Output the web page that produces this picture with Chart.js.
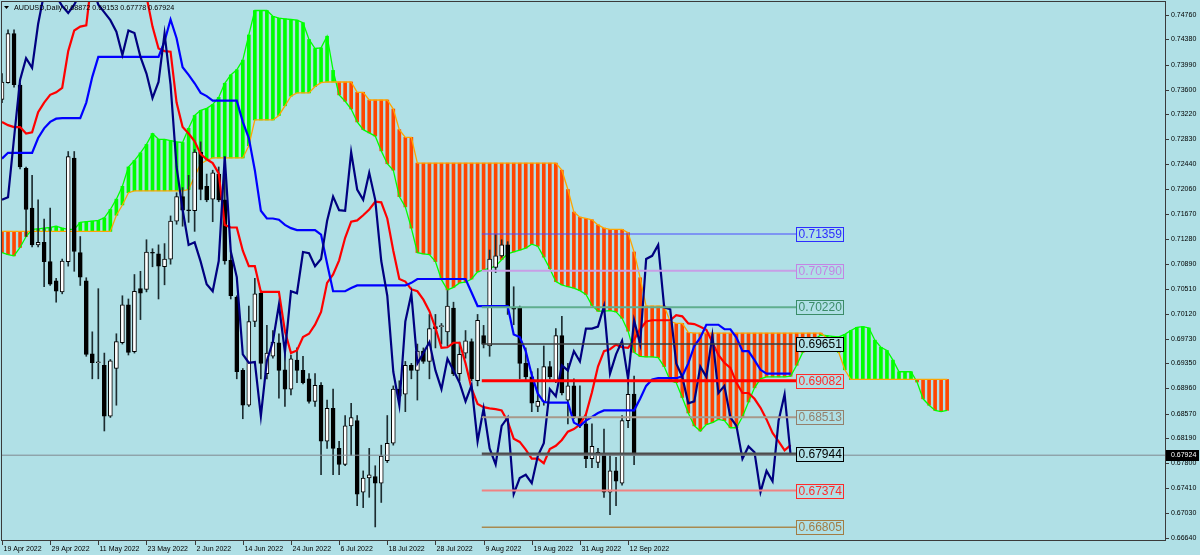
<!DOCTYPE html>
<html>
<head>
<meta charset="utf-8">
<script src="https://cdn.jsdelivr.net/npm/chart.js@4.4.0/dist/chart.umd.min.js"></script>
<style>
  html, body { margin: 0; padding: 0; background: #b0e0e6; }
  canvas { display: block; }
</style>
</head>
<body>
<canvas id="chart" width="1200" height="555"></canvas>
<script>
// AUDUSD daily candles, bar 0 = 19 Apr 2022 ... bar 105 = 13 Sep 2022
const opens = [0.7345,0.7371,0.7447,0.7367,0.7238,0.7176,0.7119,0.7123,0.7093,0.7063,
  0.7046,0.7093,0.7254,0.7107,0.7063,0.6950,0.6936,0.6932,0.6853,0.6927,
  0.6967,0.7026,0.6953,0.7051,0.7050,0.7107,0.7105,0.7085,0.7097,0.7156,
  0.7194,0.7173,0.7172,0.7263,0.7210,0.7190,0.7229,0.7189,0.7095,0.7038,
  0.6924,0.6870,0.7000,0.7044,0.6919,0.6946,0.6967,0.6925,0.6895,0.6940,
  0.6924,0.6911,0.6876,0.6901,0.6814,0.6865,0.6803,0.6778,0.6838,0.6846,
  0.6735,0.6757,0.6759,0.6749,0.6784,0.6811,0.6895,0.6887,0.6932,0.6924,
  0.6954,0.6938,0.6992,0.6992,0.6984,0.7021,0.6919,0.6951,0.6969,0.6908,
  0.6978,0.6962,0.7084,0.7102,0.7119,0.7022,0.7021,0.6935,0.6914,0.6868,
  0.6876,0.6930,0.6908,0.6978,0.6878,0.6900,0.6851,0.6841,0.6787,0.6781,
  0.6795,0.6735,0.6768,0.6749,0.6846,0.68872];
const highs = [0.7385,0.7453,0.7453,0.7370,0.7240,0.7227,0.7189,0.7159,0.7176,0.7067,
  0.7097,0.7264,0.7264,0.7132,0.7068,0.6984,0.7051,0.6951,0.6941,0.6981,
  0.7040,0.7035,0.7073,0.7078,0.7127,0.7113,0.7119,0.7121,0.7164,0.7200,
  0.7208,0.7227,0.7267,0.7279,0.7229,0.7235,0.7240,0.7256,0.7110,0.7040,
  0.6927,0.7024,0.7067,0.7048,0.6994,0.6986,0.6981,0.6951,0.6948,0.6959,
  0.6946,0.6919,0.6919,0.6905,0.6878,0.6895,0.6814,0.6854,0.6873,0.6854,
  0.6768,0.6803,0.6776,0.6808,0.6854,0.6900,0.6908,0.6938,0.6935,0.6965,
  0.6959,0.7011,0.7011,0.6997,0.7048,0.7030,0.6968,0.6986,0.6973,0.7011,
  0.6994,0.7111,0.7135,0.7127,0.7124,0.7054,0.7024,0.6959,0.6922,0.6927,
  0.6962,0.6938,0.6989,0.7008,0.6935,0.6911,0.6900,0.6854,0.6841,0.6803,
  0.6833,0.6792,0.6789,0.6854,0.6913,0.69153];
const lows = [0.7340,0.7370,0.7364,0.7237,0.7132,0.7116,0.7116,0.7054,0.7056,0.7030,
  0.7043,0.7086,0.7078,0.7056,0.6946,0.6911,0.6911,0.6830,0.6851,0.6870,
  0.6965,0.6948,0.6951,0.7003,0.7046,0.7085,0.7035,0.7057,0.7089,0.7151,
  0.7148,0.7154,0.7140,0.7189,0.7186,0.7155,0.7186,0.7089,0.7035,0.6911,
  0.6849,0.6868,0.6992,0.6911,0.6911,0.6943,0.6881,0.6868,0.6886,0.6905,
  0.6903,0.6873,0.6868,0.6762,0.6803,0.6762,0.6762,0.6776,0.6792,0.6714,
  0.6711,0.6727,0.6681,0.6719,0.6781,0.6808,0.6876,0.6860,0.6911,0.6878,
  0.6935,0.6911,0.6959,0.6965,0.6962,0.6916,0.6908,0.6943,0.6908,0.6900,
  0.6959,0.6946,0.7076,0.7100,0.7011,0.6995,0.6911,0.6908,0.6860,0.6860,
  0.6870,0.6911,0.6905,0.6886,0.6841,0.6849,0.6835,0.6773,0.6773,0.6773,
  0.6727,0.6700,0.6714,0.6746,0.6835,0.67778];
const closes = [0.7372,0.7447,0.7368,0.7240,0.7174,0.7119,0.7123,0.7093,0.7058,0.7047,
  0.7094,0.7256,0.7109,0.7069,0.6949,0.6936,0.6937,0.6853,0.6939,0.6969,
  0.7026,0.6952,0.7047,0.7044,0.7108,0.7106,0.7086,0.7097,0.7156,0.7194,
  0.7173,0.7172,0.7263,0.7205,0.7189,0.7231,0.7189,0.7094,0.7040,0.6922,
  0.6870,0.7000,0.7043,0.6935,0.6951,0.6968,0.6924,0.6895,0.6942,0.6924,
  0.6905,0.6876,0.6901,0.6814,0.6865,0.6803,0.6778,0.6838,0.6851,0.6732,
  0.6757,0.6762,0.6749,0.6791,0.6811,0.6895,0.6884,0.6932,0.6924,0.6954,
  0.6938,0.6989,0.6989,0.6992,0.7024,0.6919,0.6949,0.6970,0.6911,0.7002,
  0.6965,0.7097,0.7102,0.7119,0.7022,0.7019,0.6935,0.6914,0.6873,0.6876,
  0.6930,0.6914,0.6978,0.6889,0.6900,0.6851,0.6838,0.6787,0.6806,0.6797,
  0.6735,0.6768,0.6752,0.6846,0.6887,0.67924];

// indicator lines, bar 0..131
const chikou = [0.7189,0.7193,0.7285,0.7375,0.7409,0.7394,0.7462,0.7510,0.7520,0.7505,
  0.7490,0.7479,0.7492,0.7510,0.7530,0.7520,0.7492,0.7480,0.7468,0.7450,
  0.7414,0.7452,0.7448,0.7411,0.7385,0.7347,
  0.7372,0.7447,0.7368,0.7240,0.7174,0.7119,0.7123,0.7093,0.7058,0.7047,
  0.7094,0.7256,0.7109,0.7069,0.6949,0.6936,0.6937,0.6853,0.6939,0.6969,
  0.7026,0.6952,0.7047,0.7044,0.7108,0.7106,0.7086,0.7097,0.7156,0.7194,
  0.7173,0.7172,0.7263,0.7205,0.7189,0.7231,0.7189,0.7094,0.7040,0.6922,
  0.6870,0.7000,0.7043,0.6935,0.6951,0.6968,0.6924,0.6895,0.6942,0.6924,
  0.6905,0.6876,0.6901,0.6814,0.6865,0.6803,0.6778,0.6838,0.6851,0.6732,
  0.6757,0.6762,0.6749,0.6791,0.6811,0.6895,0.6884,0.6932,0.6924,0.6954,
  0.6938,0.6989,0.6989,0.6992,0.7024,0.6919,0.6949,0.6970,0.6911,0.7002,
  0.6965,0.7097,0.7102,0.7119,0.7022,0.7019,0.6935,0.6914,0.6873,0.6876,
  0.6930,0.6914,0.6978,0.6889,0.6900,0.6851,0.6838,0.6787,0.6806,0.6797,
  0.6735,0.6768,0.6752,0.6846,0.6887,0.67924];
const tenkan = [0.7310,0.7305,0.7302,0.7302,0.7292,0.7294,0.7325,0.7340,0.7352,0.7356,
  0.7363,0.7420,0.7452,0.7458,0.7460,0.7540,0.7560,0.7560,0.7560,0.7560,
  0.7560,0.7560,0.7540,0.7520,0.7505,0.7458,0.7424,0.7420,0.7419,0.7340,
  0.7302,0.7292,0.7280,0.7260,0.7252,0.7246,0.7230,0.7150,0.7146,0.7146,
  0.7110,0.7086,0.7086,0.7046,0.7046,0.7046,0.7046,0.6985,0.6951,0.6955,
  0.6976,0.6981,0.6995,0.7015,0.7060,0.7073,0.7095,0.7130,0.7155,0.7157,
  0.7165,0.7174,0.7186,0.7185,0.7160,0.7110,0.7066,0.7062,0.7050,0.7047,
  0.7034,0.7016,0.6990,0.6959,0.6960,0.6967,0.6967,0.6935,0.6896,0.6872,
  0.6867,0.6865,0.6864,0.6862,0.6845,0.6818,0.6813,0.6801,0.6787,0.6787,
  0.6780,0.6802,0.6807,0.6816,0.6829,0.6833,0.6840,0.6856,0.6890,0.6930,
  0.6954,0.6957,0.6964,0.6960,0.6959,0.6972,0.6988,0.7000,0.7002,0.7002,
  0.7002,0.7002,0.7010,0.7008,0.6997,0.6996,0.6992,0.6987,0.6968,0.6948,
  0.6936,0.6928,0.6905,0.6889,0.6889,0.6880,0.6866,0.6848,0.6827,0.6814,
  0.6800,0.6808];
const kijun = [0.7253,0.7262,0.7262,0.7262,0.7262,0.7262,0.7285,0.7300,0.7310,0.7315,
  0.7316,0.7316,0.7316,0.7316,0.7340,0.7380,0.7411,0.7411,0.7411,0.7411,
  0.7411,0.7411,0.7411,0.7411,0.7411,0.7411,0.7411,0.7435,0.7469,0.7440,
  0.7395,0.7383,0.7370,0.7355,0.7350,0.7343,0.7343,0.7343,0.7343,0.7343,
  0.7310,0.7285,0.7235,0.7172,0.7160,0.7160,0.7158,0.7150,0.7145,0.7142,
  0.7142,0.7142,0.7142,0.7135,0.7090,0.7047,0.7047,0.7047,0.7052,0.7056,
  0.7056,0.7056,0.7056,0.7056,0.7056,0.7056,0.7056,0.7056,0.7060,0.7066,
  0.7066,0.7066,0.7066,0.7066,0.7066,0.7066,0.7066,0.7066,0.7045,0.7024,
  0.7024,0.7024,0.7024,0.7024,0.7024,0.6980,0.6976,0.6954,0.6917,0.6888,
  0.6875,0.6874,0.6874,0.6874,0.6874,0.6843,0.6838,0.6846,0.6852,0.6858,
  0.6862,0.6862,0.6862,0.6862,0.6862,0.6862,0.6880,0.6900,0.6910,0.6912,
  0.6912,0.6912,0.6912,0.6915,0.6935,0.6962,0.6975,0.6995,0.6995,0.6995,
  0.6988,0.6988,0.6975,0.6954,0.6954,0.6940,0.6925,0.6919,0.6919,0.6919,
  0.6919,0.6919];

// cloud, bar 0..157
const spanA = [0.7107,0.7104,0.7102,0.7115,0.7132,0.7143,0.7144,0.7145,0.7146,0.7148,
  0.7145,0.7143,0.7143,0.7154,0.7155,0.7156,0.7157,0.7161,0.7174,0.7190,
  0.7210,0.7240,0.7250,0.7262,0.7275,0.7292,0.7283,0.7283,0.7281,0.7279,
  0.7278,0.7300,0.7320,0.7328,0.7331,0.7337,0.7348,0.7370,0.7383,0.7391,
  0.7406,0.7445,0.7483,0.7483,0.7483,0.7474,0.7471,0.7470,0.7469,0.7468,
  0.7464,0.7438,0.7424,0.7425,0.7443,0.7390,0.7352,0.7342,0.7330,0.7310,
  0.7298,0.7293,0.7288,0.7265,0.7245,0.7235,0.7194,0.7178,0.7145,0.7107,
  0.7105,0.7104,0.7093,0.7065,0.7049,0.7053,0.7060,0.7061,0.7066,0.7077,
  0.7080,0.7083,0.7086,0.7096,0.7105,0.7108,0.7111,0.7114,0.7120,0.7117,
  0.7100,0.7082,0.7062,0.7057,0.7054,0.7052,0.7048,0.7042,0.7025,0.7016,
  0.7016,0.7017,0.7015,0.7005,0.6985,0.6952,0.6946,0.6945,0.6945,0.6944,
  0.6930,0.6908,0.6905,0.6882,0.6858,0.6838,0.6830,0.6840,0.6843,0.6848,
  0.6846,0.6835,0.6835,0.6852,0.6875,0.6897,0.6911,0.6914,0.6914,0.6914,
  0.6914,0.6915,0.6932,0.6952,0.6962,0.6972,0.6979,0.6978,0.6977,0.6976,
  0.6980,0.6986,0.6991,0.6992,0.6990,0.6971,0.6960,0.6955,0.6940,0.6922,
  0.6922,0.6922,0.6906,0.6880,0.6870,0.6862,0.6860,0.6862];
const spanB = [0.7140,0.7140,0.7140,0.7140,0.7140,0.7140,0.7140,0.7140,0.7140,0.7140,
  0.7140,0.7140,0.7140,0.7140,0.7140,0.7140,0.7140,0.7140,0.7140,0.7165,
  0.7181,0.7200,0.7203,0.7203,0.7203,0.7203,0.7203,0.7203,0.7203,0.7203,
  0.7203,0.7205,0.7225,0.7245,0.7250,0.7254,0.7254,0.7254,0.7254,0.7254,
  0.7254,0.7273,0.7313,0.7313,0.7313,0.7313,0.7320,0.7335,0.7350,0.7355,
  0.7355,0.7355,0.7365,0.7371,0.7372,0.7372,0.7372,0.7372,0.7372,0.7356,
  0.7356,0.7344,0.7344,0.7344,0.7344,0.7330,0.7298,0.7286,0.7286,0.7246,
  0.7246,0.7246,0.7246,0.7246,0.7246,0.7246,0.7246,0.7246,0.7246,0.7246,
  0.7246,0.7246,0.7246,0.7246,0.7246,0.7246,0.7246,0.7246,0.7246,0.7246,
  0.7246,0.7246,0.7246,0.7235,0.7205,0.7170,0.7162,0.7160,0.7158,0.7150,
  0.7145,0.7143,0.7143,0.7143,0.7138,0.7108,0.7068,0.7024,0.7024,0.7024,
  0.7024,0.7000,0.6997,0.6997,0.6983,0.6982,0.6982,0.6982,0.6982,0.6982,
  0.6982,0.6982,0.6982,0.6982,0.6982,0.6982,0.6982,0.6982,0.6982,0.6982,
  0.6982,0.6982,0.6982,0.6982,0.6982,0.6982,0.6982,0.6975,0.6965,0.6952,
  0.6925,0.6910,0.6910,0.6910,0.6910,0.6910,0.6910,0.6910,0.6910,0.6910,
  0.6910,0.6910,0.6910,0.6910,0.6910,0.6910,0.6910,0.6910];

// horizontal levels drawn on the chart
const levels      = [0.71359, 0.70790, 0.70220, 0.69651, 0.69082, 0.68513, 0.67944, 0.67374, 0.66805];
const levelLine   = ['#4a4aff', '#c89ee6', '#5fae8e', '#3c3c3c', '#ff0000', '#a8988a', '#4c4c4c', '#f08282', '#a88a50'];
const levelWidth  = [1.2, 2, 2, 1.5, 3, 2, 3, 2, 1.5];
const levelText   = ['#2d2dff', '#c484e4', '#3b8c68', '#000000', '#ff2a2a', '#94806c', '#000000', '#ff2a2a', '#a27c44'];
const levelFrom = 79.7, levelTo = 131.9;
const bid = 0.67924;

const priceTicks = ['0.74760','0.74380','0.73990','0.73600','0.73220','0.72830','0.72440','0.72060','0.71670','0.71280','0.70890',
  '0.70510','0.70120','0.69730','0.69350','0.68960','0.68570','0.68190','0.67800','0.67410','0.67030','0.66640'];
const dateLabels = ['19 Apr 2022','29 Apr 2022','11 May 2022','23 May 2022','2 Jun 2022','14 Jun 2022','24 Jun 2022',
  '6 Jul 2022','18 Jul 2022','28 Jul 2022','9 Aug 2022','19 Aug 2022','31 Aug 2022','12 Sep 2022'];
const dateBars = [0, 8, 16, 24, 32, 40, 48, 56, 64, 72, 80, 88, 96, 104];
const title = 'AUDUSD,Daily 0.68872 0.69153 0.67778 0.67924';

const BG = '#b0e0e6';
const pts = arr => arr.map((v, i) => ({ x: i, y: v }));

const datasets = [];
datasets.push({
  type: 'bar', order: 10, grouped: false, barThickness: 3,
  data: spanA.map((a, i) => ({ x: i, y: [spanB[i], a] })),
  backgroundColor: spanA.map((a, i) => a >= spanB[i] ? '#00ff00' : '#ff4500'),
  borderWidth: 0, minBarLength: 1
});
datasets.push({ type: 'line', order: 9, data: pts(spanB), borderColor: '#ffa500', borderWidth: 1.3, pointRadius: 0, tension: 0 });
datasets.push({ type: 'line', order: 9, data: pts(spanA), borderColor: '#00ff00', borderWidth: 1.3, pointRadius: 0, tension: 0 });
datasets.push({
  type: 'bar', order: 8, grouped: false, barThickness: 1,
  data: highs.map((h, i) => ({ x: i, y: [lows[i], h] })),
  backgroundColor: '#1c2c30', borderWidth: 0
});
datasets.push({
  type: 'bar', order: 7, grouped: false, barThickness: 4, minBarLength: 1,
  data: opens.map((o, i) => ({ x: i, y: [o, closes[i]] })),
  backgroundColor: opens.map((o, i) => closes[i] >= o ? '#ffffff' : '#000000'),
  borderColor: '#000000', borderWidth: 1, borderSkipped: false
});
datasets.push({ type: 'line', order: 6, data: pts(tenkan), borderColor: '#ff0000', borderWidth: 2.2, pointRadius: 0, tension: 0 });
datasets.push({ type: 'line', order: 5, data: pts(kijun), borderColor: '#0000ff', borderWidth: 2.2, pointRadius: 0, tension: 0 });
datasets.push({ type: 'line', order: 4, data: pts(chikou), borderColor: '#000080', borderWidth: 2.2, pointRadius: 0, tension: 0 });
levels.forEach((v, k) => {
  datasets.push({ type: 'line', order: 3, data: [{ x: levelFrom, y: v }, { x: levelTo, y: v }],
    borderColor: levelLine[k], borderWidth: levelWidth[k], pointRadius: 0 });
});
datasets.push({ type: 'line', order: 2, data: [{ x: 0, y: bid }, { x: 194, y: bid }],
  borderColor: '#808890', borderWidth: 1, pointRadius: 0 });

const decor = {
  id: 'decor',
  beforeDraw(chart) {
    const c = chart.ctx;
    c.save();
    c.fillStyle = BG;
    c.fillRect(0, 0, chart.width, chart.height);
    c.restore();
  },
  afterDraw(chart) {
    const c = chart.ctx, a = chart.chartArea;
    const xs = chart.scales.x, ys = chart.scales.y;
    c.save();

    // level labels
    c.font = "12px 'Liberation Sans'";
    c.textBaseline = 'middle';
    c.textAlign = 'left';
    const bx = Math.round(xs.getPixelForValue(levelTo)) + 0.5;
    levels.forEach((v, k) => {
      const y = Math.round(ys.getPixelForValue(v));
      c.fillStyle = BG;
      c.fillRect(bx, y - 7, 47, 14);
      c.strokeStyle = levelText[k];
      c.lineWidth = 1;
      c.strokeRect(bx, y - 6.5, 47, 14);
      c.fillStyle = levelText[k];
      c.fillText(v.toFixed(5), bx + 2, y + 0.5);
    });

    // frame
    c.strokeStyle = '#3a3a3a';
    c.lineWidth = 1;
    c.strokeRect(a.left - 0.5, a.top - 0.5, a.right - a.left + 1, a.bottom - a.top + 1);

    // price axis
    c.font = "7px 'Liberation Sans'";
    c.fillStyle = '#000';
    priceTicks.forEach(t => {
      const y = Math.round(ys.getPixelForValue(parseFloat(t))) + 0.5;
      c.beginPath();
      c.moveTo(a.right + 1, y);
      c.lineTo(a.right + 4, y);
      c.stroke();
      c.fillText(t, a.right + 6, y);
    });
    const by = Math.round(ys.getPixelForValue(bid));
    c.fillStyle = '#000';
    c.fillRect(a.right + 1, by - 5, 33, 11);
    c.fillStyle = '#fff';
    c.fillText(bid.toFixed(5), a.right + 6, by + 0.5);

    // time axis
    c.fillStyle = '#000';
    c.textBaseline = 'alphabetic';
    dateBars.forEach((b, k) => {
      const x = Math.round(xs.getPixelForValue(b)) + 0.5;
      c.beginPath();
      c.moveTo(x, a.bottom + 1);
      c.lineTo(x, a.bottom + 5);
      c.stroke();
      c.fillText(dateLabels[k], x + 1, a.bottom + 11);
    });

    // title
    c.beginPath();
    c.moveTo(4, 6); c.lineTo(9, 6); c.lineTo(6.5, 9); c.closePath();
    c.fill();
    c.font = "7.2px 'Liberation Sans'";
    c.fillText(title, 14, 10);
    c.restore();
  }
};

new Chart(document.getElementById('chart'), {
  type: 'bar',
  data: { datasets },
  options: {
    responsive: false,
    devicePixelRatio: 1,
    animation: false,
    layout: { padding: { left: 2, right: 35, top: 2, bottom: 15 } },
    plugins: { legend: { display: false }, tooltip: { enabled: false } },
    scales: {
      x: { type: 'linear', min: 0, max: 193.19, offset: false, display: false },
      y: { type: 'linear', min: 0.66607, max: 0.74962, display: false }
    }
  },
  plugins: [decor]
});
</script>
</body>
</html>
